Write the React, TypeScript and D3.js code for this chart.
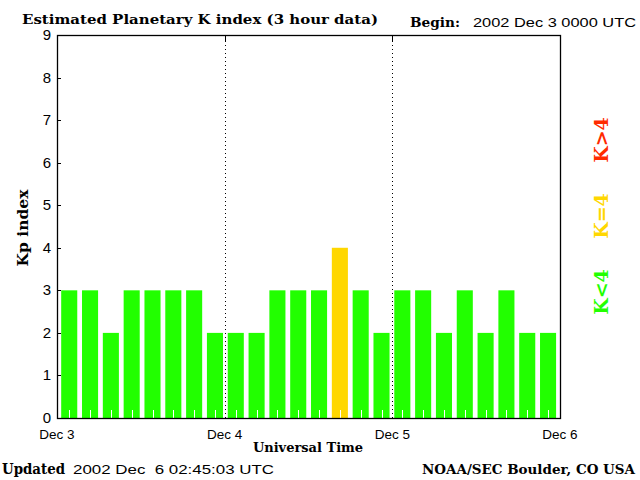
import React from "react";
import * as d3 from "d3";

const kpValues = [3, 3, 2, 3, 3, 3, 3, 2, 2, 2, 3, 3, 3, 4, 3, 2, 3, 3, 2, 3, 2, 3, 2, 2];
const dayLabels = ["Dec 3", "Dec 4", "Dec 5", "Dec 6"];
const yTicks = [0, 1, 2, 3, 4, 5, 6, 7, 8, 9];
const legendItems = [
  { label: "K<4", color: "#22ff00" },
  { label: "K=4", color: "#ffd700" },
  { label: "K>4", color: "#ff2a00" },
];

const W = 640, H = 480;
const M = { left: 57, right: 560, top: 35, bottom: 418 };
const serif = "'DejaVu Serif', 'Liberation Serif', serif";
const sans = "'Liberation Sans', 'DejaVu Sans', sans-serif";

function colorFor(k: number) {
  if (k < 4) return legendItems[0].color;
  if (k === 4) return legendItems[1].color;
  return legendItems[2].color;
}

export default function App() {
  const x = d3.scaleLinear().domain([0, 72]).range([M.left, M.right]);
  const y = d3.scaleLinear().domain([0, 9]).range([M.bottom, M.top]);
  const barW = x(2.3) - x(0);
  const centerOf = (i: number) => x(i * 2.98 + 1.75);

  return (
    <svg width={W} height={H} style={{ position: "absolute", left: 0, top: 0, background: "#fff" }}>
      <rect x={0} y={0} width={W} height={H} fill="#fff" />
      {kpValues.map((k, i) => (
        <rect key={i} x={centerOf(i) - barW / 2} y={y(k)} width={barW} height={y(0) - y(k)} fill={colorFor(k)} />
      ))}
      {kpValues.map((_, i) => (
        <line key={"wt" + i} x1={Math.round(centerOf(i)) + 0.5} x2={Math.round(centerOf(i)) + 0.5} y1={M.bottom} y2={M.bottom - 8} stroke="#fff" strokeWidth={1} />
      ))}
      {[24, 48].map((h) => (
        <g key={h}>
          <line x1={Math.round(x(h)) + 0.5} x2={Math.round(x(h)) + 0.5} y1={M.top} y2={M.top + 6} stroke="#000" strokeWidth={1} />
          <line x1={Math.round(x(h)) + 0.5} x2={Math.round(x(h)) + 0.5} y1={M.top + 6} y2={M.bottom} stroke="#000" strokeWidth={1} strokeDasharray="1,3" />
        </g>
      ))}
      <rect x={M.left + 0.5} y={M.top + 0.5} width={M.right - M.left} height={M.bottom - M.top} fill="none" stroke="#000" strokeWidth={1.3} />
      {yTicks.map((t) => (
        <g key={t}>
          <line x1={M.left} x2={M.left + 4} y1={Math.round(y(t)) + 0.5} y2={Math.round(y(t)) + 0.5} stroke="#000" />
          <text x={51} y={y(t) + 5} textAnchor="end" fontFamily={sans} fontSize={15} fill="#000">{t}</text>
        </g>
      ))}
      {dayLabels.map((d, i) => (
        <text key={d} x={x(i * 24)} y={439} textAnchor="middle" fontFamily={sans} fontSize={13.5} fill="#000">{d}</text>
      ))}
      <text x={308} y={452} textAnchor="middle" fontFamily={serif} fontWeight="bold" fontSize={13} fill="#000">Universal Time</text>
      <text transform="translate(28,228) rotate(-90)" textAnchor="middle" fontFamily={serif} fontWeight="bold" fontSize={15.5} fill="#000">Kp index</text>
      <text x={22} y={24} fontFamily={serif} fontWeight="bold" fontSize={13} textLength={356} lengthAdjust="spacingAndGlyphs" fill="#000">Estimated Planetary K index (3 hour data)</text>
      <text x={410} y={27} fontFamily={serif} fontWeight="bold" fontSize={13} textLength={50} lengthAdjust="spacingAndGlyphs" fill="#000">Begin:</text>
      <text x={473} y={27} fontFamily={sans} fontSize={13} textLength={163} lengthAdjust="spacingAndGlyphs" fill="#000">2002 Dec 3 0000 UTC</text>
      <text x={2} y={474} fontFamily={serif} fontWeight="bold" fontSize={14} textLength={63} lengthAdjust="spacingAndGlyphs" fill="#000">Updated</text>
      <text x={73} y={474} fontFamily={sans} fontSize={13.5} textLength={201} lengthAdjust="spacingAndGlyphs" fill="#000" style={{ whiteSpace: "pre" }}>2002 Dec  6 02:45:03 UTC</text>
      <text x={422} y={474} fontFamily={serif} fontWeight="bold" fontSize={12.5} textLength={213} lengthAdjust="spacingAndGlyphs" fill="#000">NOAA/SEC Boulder, CO USA</text>
      {legendItems.map((it, i) => (
        <text key={it.label} transform={`translate(608,${292 - i * 76}) rotate(-90)`} textAnchor="middle" fontFamily={serif} fontWeight="bold" fontSize={19} fill={it.color}>{it.label}</text>
      ))}
    </svg>
  );
}
